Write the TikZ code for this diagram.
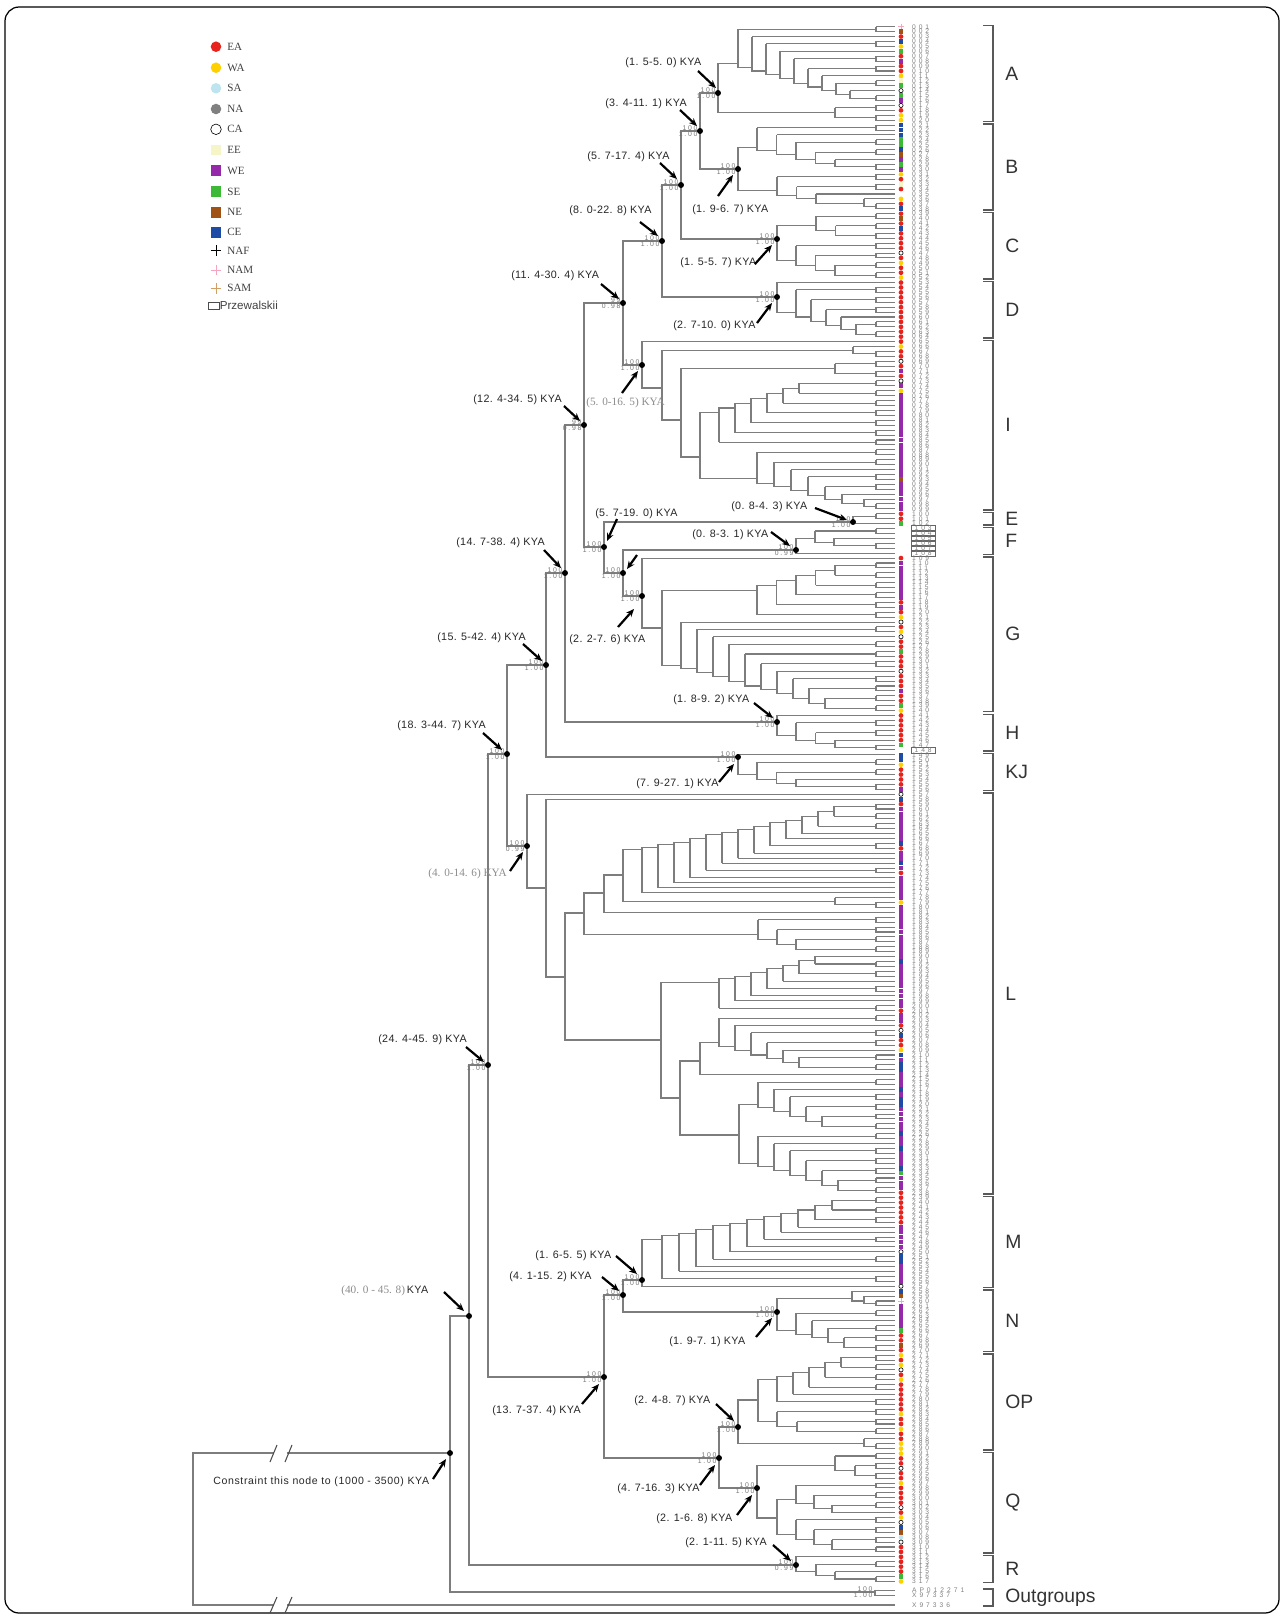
\documentclass[tikz,border=0pt]{standalone}
\usepackage{fontspec}
\setmainfont{Liberation Serif}
\newfontfamily\kyaf[LetterSpace=3]{Liberation Sans}
\newfontfamily\conf[LetterSpace=6]{Liberation Sans}
\newfontfamily\svf[LetterSpace=25]{Liberation Sans}
\newfontfamily\tipf[LetterSpace=45]{Liberation Sans}
\newfontfamily\cladef{Liberation Sans}
\usetikzlibrary{arrows.meta}

\definecolor{treegray}{RGB}{125,125,125}
\definecolor{eacol}{RGB}{232,35,30}
\definecolor{wacol}{RGB}{255,208,0}
\definecolor{sacol}{RGB}{190,228,240}
\definecolor{nacol}{RGB}{128,128,128}
\definecolor{eecol}{RGB}{245,245,200}
\definecolor{wecol}{RGB}{150,40,170}
\definecolor{secol}{RGB}{60,185,55}
\definecolor{necol}{RGB}{160,82,20}
\definecolor{cecol}{RGB}{30,75,165}
\definecolor{namcol}{RGB}{245,165,190}
\definecolor{samcol}{RGB}{210,160,100}

% small comb of tips #1..#2 at the tip ends, entry in \rx,\ry
\newcommand\trung[2]{%
  \ifnum#1=#2\relax
    \pgfmathsetmacro\ya{26.7+(#1-1)*4.92}%
    \xdef\rx{895}\xdef\ry{\ya}%
  \else
    \pgfmathsetmacro\ya{26.7+(#1-1)*4.92}%
    \pgfmathsetmacro\yb{26.7+(#2-1)*4.92}%
    \pgfmathsetmacro\xf{876-(#2-1-#1)*12}%
    \pgfmathsetmacro\ym{(\ya+\yb)/2}%
    \xdef\rx{\xf}\xdef\ry{\ym}%
    \pgfmathtruncatemacro\ka{#1}%
    \pgfmathtruncatemacro\kb{#2-1}%
    \pgfmathtruncatemacro\kl{#2}%
    \edef\klist{\ka,...,\kb}%
    \foreach \kk in \klist {%
      \pgfmathsetmacro\xk{876-(\kl-1-\kk)*12}%
      \pgfmathsetmacro\yk{26.7+(\kk-1)*4.92}%
      \ifnum\kk<\kb\relax
        \pgfmathsetmacro\tx{876-(\kl-2-\kk)*12}%
        \pgfmathsetmacro\ty{(26.7+\kk*4.92+\yb)/2}%
      \else
        \def\tx{895}\let\ty\yb
      \fi
      \draw[br] (\xk,\yk) -- (895,\yk) (\xk,\yk) |- (\tx,\ty);%
    }%
  \fi}

% ladder of rungs: #1 name of entry, #2 first x, #3 x step, #4 rungs f/l
\newcommand\tladder[4]{%
  \foreach \rf/\rl [count=\nn] in {#4} {\xdef\lastn{\nn}\xdef\lastf{\rf}\xdef\lastl{\rl}}%
  \pgfmathsetmacro\lastc{26.7+((\lastf+\lastl)/2-1)*4.92}%
  \foreach \rf/\rl [count=\ri] in {#4} {%
    \trung{\rf}{\rl}%
    \ifnum\ri<\lastn\relax
      \pgfmathsetmacro\LX{#2+(\ri-1)*#3}%
      \pgfmathsetmacro\LY{(\ry+\lastc)/2}%
      \draw[br] (\LX,\ry) -- (\rx,\ry);%
    \else
      \let\LX\rx \let\LY\ry
    \fi
    \ifnum\ri>1\relax
      \draw[br] (\prevx,\prevc) |- (\LX,\LY);%
    \else
      \coordinate (#1) at (\LX,\LY);%
    \fi
    \xdef\prevx{\LX}\xdef\prevc{\ry}%
  }}

\begin{document}
\begin{tikzpicture}[x=0.02cm, y=-0.02cm,
    br/.style={draw=treegray, line width=0.6pt},
    brk/.style={draw=black!65, line width=0.8pt},
    sv/.style={font=\svf\fontsize{3.9}{3.9}\selectfont, text=black!55, inner sep=0pt},
    kya/.style={font=\kyaf\fontsize{6.1}{6.5}\selectfont, text=black!85, inner sep=0pt, anchor=west},
    kyag/.style={font=\fontsize{6.4}{6.5}\selectfont, text=black!45, inner sep=0pt, anchor=west},
    kyarrow/.style={-{Stealth[length=4.5pt,width=3.8pt]}, line width=1.25pt, black},
    tiplab/.style={font=\tipf\fontsize{3.8}{3.8}\selectfont, text=black!50, inner sep=0.4pt, anchor=west},
    clab/.style={font=\cladef\fontsize{11}{11}\selectfont, text=black!80, inner sep=0pt, anchor=west},
    lgt/.style={font=\fontsize{6.3}{6.3}\selectfont, text=black!75, inner sep=0pt, anchor=west},
    mk/.style={inner sep=0pt, minimum size=2.7pt},
    mkr/.style={mk, circle, fill=eacol},
    mky/.style={mk, circle, fill=wacol},
    mks/.style={mk, circle, fill=sacol},
    mkg/.style={mk, circle, fill=nacol},
    mko/.style={mk, circle, draw=black, fill=white, line width=0.35pt, minimum size=2.4pt},
    mke/.style={mk, rectangle, fill=eecol},
    mkp/.style={mk, rectangle, fill=wecol},
    mkG/.style={mk, rectangle, fill=secol},
    mkb/.style={mk, rectangle, fill=necol},
    mkc/.style={mk, rectangle, fill=cecol},
    mkplus/.style={mk, rectangle, minimum size=3.2pt, path picture={
      \draw[#1, line width=0.55pt] (path picture bounding box.north) -- (path picture bounding box.south)
        (path picture bounding box.west) -- (path picture bounding box.east);}},
    mkk/.style={mkplus=black},
    mkm/.style={mkplus=namcol},
    mka/.style={mkplus=samcol},
    mkn/.style={mk},
    mkx/.style={mk}
  ]
\useasboundingbox (0,0) rectangle (1284,1617);
\draw[black, line width=0.7pt, rounded corners=8pt] (5,7) rectangle (1279,1613);

% labelled nodes of the tree
\coordinate (root) at (450,1453);
\coordinate (n40) at (469,1316);
\coordinate (n24) at (488,1065);
\coordinate (n18) at (507,754);
\coordinate (n4)  at (527,846);
\coordinate (n15) at (546,665);
\coordinate (n14) at (565,573);
\coordinate (n12) at (584,425);
\coordinate (n11) at (623,303);
\coordinate (n8)  at (662,241);
\coordinate (n5)  at (681,185);
\coordinate (n3)  at (700,131);
\coordinate (nA)  at (718,93);
\coordinate (nB)  at (738,169);
\coordinate (nC)  at (777,239);
\coordinate (nD)  at (777,297);
\coordinate (nI)  at (642,365);
\coordinate (n57) at (604,547);
\coordinate (nE)  at (853,522);
\coordinate (nU)  at (623,573);
\coordinate (nF)  at (796,550);
\coordinate (nG)  at (642,596);
\coordinate (nH)  at (777,722);
\coordinate (nKJ) at (738,757);
\coordinate (n13) at (604,1377);
\coordinate (n41) at (623,1295);
\coordinate (n16) at (642,1280);
\coordinate (nN)  at (777,1312);
\coordinate (n47) at (719,1458);
\coordinate (nOP) at (738,1427);
\coordinate (nQ)  at (757,1488);
\coordinate (nR)  at (796,1565);
\coordinate (nOG) at (875,1592);
% inner nodes
\coordinate (I1) at (662,388);
\coordinate (I2) at (681,420);
\coordinate (I3) at (700,457);
\coordinate (G1) at (662,628);
\coordinate (L1) at (546,888);
\coordinate (L2) at (565,977);
\coordinate (La) at (584,913);
\coordinate (Laa) at (604,893);
\coordinate (Lab) at (623,875);
\coordinate (Lb) at (661,1040);
\coordinate (Lc) at (680,1098);
\coordinate (Lca) at (700,1061);
\coordinate (Lcb) at (739,1135);
\coordinate (O1) at (758,1400);
\coordinate (Qb) at (777,1518);
\coordinate (tOG1) at (895,1590.5);
\coordinate (tOG2) at (895,1595.3);
\coordinate (tOG3) at (895,1605);
\coordinate (rootl) at (193,1453);
\coordinate (rootb) at (193,1605);

% clades
\tladder{A1}{738}{14}{1/2,3/3,4/5,6/6,7/8,9/10,11/11,12/13,14/14,15/16}
\tladder{A2}{835}{20}{17/18,19/20}
\tladder{B1}{757}{19.5}{21/22,23/23,24/25,26/27,28/28,29/30}
\tladder{B2}{777}{19.5}{31/32,33/34,35/35,36/38}
\tladder{C1}{816}{19.5}{39/40,41/42,43/44}
\tladder{C2}{796}{19.5}{45/46,47/48,49/50,51/52}
\tladder{D1}{0}{0}{53/53}
\tladder{D2}{796}{15}{54/55,56/57,58/59,60/60,61/62,63/64}
\tladder{I0}{0}{0}{65/65}
\tladder{I1a}{853}{0}{66/66,67/68}
\tladder{I2a}{835}{0}{69/70,71/72}
\tladder{I3a}{719}{16}{85/86,83/84,81/82,79/80,77/78,75/76,73/74}
\tladder{I3b}{757}{17}{87/88,89/90,91/91,92/93,94/95,96/96,97/99}
\tladder{E1}{0}{0}{100/101}
\tladder{E2}{0}{0}{102/102}
\tladder{F1}{815}{19}{103/104,105/105,106/107}
\tladder{F2}{0}{0}{108/108}
\tladder{G0}{0}{0}{109/109}
\tladder{G1a}{757}{19.5}{120/121,118/119,116/117,114/115,112/113,110/111}
\tladder{G1b}{681}{16}{122/122,123/124,125/125,126/127,128/129,130/131,132/132,133/134,135/136,137/138,139/140}
\tladder{H0}{0}{0}{141/141}
\tladder{H1}{796}{19.5}{142/143,144/145,146/146,147/148}
\tladder{K0}{0}{0}{149/149}
\tladder{K1}{757}{19.5}{150/151,152/153,154/154,155/156}
\tladder{L0}{0}{0}{157/157}
\tladder{L00}{0}{0}{158/158}
\tladder{Lup}{642}{16}{177/177,176/176,175/175,174/174,172/173,171/171,170/170,169/169,167/168,166/166,165/165,163/164,161/162,159/160}
\tladder{Lcb1}{835}{0}{178/178,179/180}
\tladder{Lt181}{0}{0}{181/181}
\tladder{Lz}{758}{19}{182/183,184/185,186/187,188/189}
\tladder{Lb1}{719}{16}{200/201,199/199,198/198,196/197,195/195,193/194,191/192,190/190}
\tladder{Lca1}{719}{16}{202/203,204/204,205/206,207/208,209/209,210/211,212/213}
\tladder{Lt214}{0}{0}{214/214}
\tladder{Lcb2}{758}{16}{215/216,217/217,218/219,220/221,222/223,224/225}
\tladder{Lcb3}{758}{16}{226/227,228/228,229/230,231/232,233/234,235/236,237/238}
\tladder{M1}{662}{17}{255/256,254/254,253/253,251/252,250/250,249/249,247/248,246/246,245/245,243/244,241/242,239/240}
\tladder{M2}{0}{0}{257/257}
\tladder{N1}{0}{0}{258/261}
\tladder{N2}{796}{16}{262/263,264/264,265/266,267/268,269/270}
\tladder{O1a}{777}{16}{280/281,279/279,277/278,275/276,273/274,271/272}
\tladder{O1b}{777}{20}{282/283,284/285,286/287}
\tladder{O2}{0}{0}{288/290}
\tladder{Q1}{835}{20}{291/292,293/294,295/296}
\tladder{Q2}{796}{18}{297/298,299/300,301/302,303/303}
\tladder{Q3}{796}{18}{304/305,306/307,308/309,310/311}
\tladder{R0}{0}{0}{312/312}
\tladder{R1}{816}{19}{313/314,315/315,316/317}

% branches
\foreach \nd/\ca/\cb in {root/n40/nOG, n40/n24/nR, n24/n18/n13, n18/n15/n4, n15/n14/nKJ,
    n14/n12/nH, n12/n11/n57, n11/n8/nI, n8/n5/nD, n5/n3/nC, n3/nA/nB,
    nA/A1/A2, nB/B1/B2, nC/C1/C2, nD/D1/D2,
    nI/I0/I1, I1/I1a/I2, I2/I2a/I3, I3/I3a/I3b,
    n57/nE/nU, nE/E1/E2, nU/nF/nG, nF/F1/F2, nG/G0/G1, G1/G1a/G1b,
    nH/H0/H1, nKJ/K0/K1,
    n4/L0/L1, L1/L00/L2, L2/La/Lb, La/Laa/Lz, Laa/Lab/Lt181, Lab/Lup/Lcb1,
    Lb/Lb1/Lc, Lc/Lca/Lcb, Lca/Lca1/Lt214, Lcb/Lcb2/Lcb3,
    n13/n41/n47, n41/n16/nN, n16/M1/M2, nN/N1/N2,
    n47/nOP/nQ, nOP/O1/O2, O1/O1a/O1b, nQ/Q1/Qb, Qb/Q2/Q3,
    nR/R0/R1, nOG/tOG1/tOG2}
  {\draw[br] (\nd) |- (\ca) (\nd) |- (\cb);}

% root stem with breaks
\draw[br] (root) -- (287,1453);
\draw[br] (274,1453) -- (rootl) -- (rootb) -- (274,1605);
\draw[br] (287,1605) -- (tOG3);
\draw[br, draw=black!70] (270,1462) -- (277,1445) (285,1462) -- (292,1445);
\draw[br, draw=black!70] (270,1613) -- (277,1597) (285,1613) -- (292,1597);

% dots and support values
\foreach \nd in {nA,n3,nB,n5,nC,n8,nD,n11,nI,n12,nE,n57,nF,nU,nG,n14,n15,nH,nKJ,n18,n4,
    n24,n16,n41,nN,n13,nOP,n47,nQ,nR,n40,root}
  {\fill[black] (\nd) circle (1.7pt);}
\foreach \nd/\sa/\sb in {nA/100/1.00, n3/100/1.00, nB/100/1.00, n5/100/1.00, nC/100/1.00,
    n8/100/1.00, nD/100/1.00, n11/99/0.98, nI/100/1.00, n12/99/0.98, nE/100/1.00,
    n57/100/1.00, nF/100/0.99, nU/100/1.00, nG/100/1.00, n14/100/1.00, n15/100/1.00,
    nH/100/1.00, nKJ/100/1.00, n18/100/1.00, n4/100/0.99, n24/100/1.00, n16/100/1.00,
    n41/100/1.00, nN/100/1.00, n13/100/1.00, nOP/100/1.00, n47/100/1.00, nQ/100/1.00,
    nR/100/0.99, nOG/100/1.00}
  {\node[sv, anchor=south east] at ([xshift=-1.3pt]\nd) {\sa};
   \node[sv, anchor=north east] at ([xshift=-1.3pt,yshift=-0.3pt]\nd) {\sb};}

% age labels
\node[kya] (kA) at (625,63) {(1. 5-5. 0) KYA};
\draw[kyarrow] (698,71) -- (716,88);
\node[kya] (k3) at (605,104) {(3. 4-11. 1) KYA};
\draw[kyarrow] (680,110) -- (697,126);
\node[kya] (k5) at (587,157) {(5. 7-17. 4) KYA};
\draw[kyarrow] (660,163) -- (677,179);
\node[kya] (k8) at (569,211) {(8. 0-22. 8) KYA};
\draw[kyarrow] (640,222) -- (658,236);
\node[kya] (kB) at (692,210) {(1. 9-6. 7) KYA};
\draw[kyarrow] (718,196) -- (733,175);
\node[kya] (kC) at (680,263) {(1. 5-5. 7) KYA};
\draw[kyarrow] (755,264) -- (772,245);
\node[kya] (k11) at (511,276) {(11. 4-30. 4) KYA};
\draw[kyarrow] (601,284) -- (619,299);
\node[kya] (kD) at (673,326) {(2. 7-10. 0) KYA};
\draw[kyarrow] (757,323) -- (772,303);
\node[kyag] (kI) at (586,403) {(5. 0-16. 5) KYA};
\draw[kyarrow] (622,393) -- (638,371);
\node[kya] (k12) at (473,400) {(12. 4-34. 5) KYA};
\draw[kyarrow] (564,406) -- (580,421);
\node[kya] (kE) at (731,507) {(0. 8-4. 3) KYA};
\draw[kyarrow] (815,508) -- (847,520);
\node[kya] (k57) at (595,514) {(5. 7-19. 0) KYA};
\draw[kyarrow] (617,519) -- (607,541);
\node[kya] (kF) at (692,535) {(0. 8-3. 1) KYA};
\draw[kyarrow] (771,532) -- (790,546);
\node[kya] (k14) at (456,543) {(14. 7-38. 4) KYA};
\draw[kyarrow] (544,550) -- (561,568);
\draw[kyarrow] (637,555) -- (627,569);
\node[kya] (kG) at (569,640) {(2. 2-7. 6) KYA};
\draw[kyarrow] (618,627) -- (634,609);
\node[kya] (k15) at (437,638) {(15. 5-42. 4) KYA};
\draw[kyarrow] (523,644) -- (542,661);
\node[kya] (kH) at (673,700) {(1. 8-9. 2) KYA};
\draw[kyarrow] (754,703) -- (773,718);
\node[kya] (k18) at (397,726) {(18. 3-44. 7) KYA};
\draw[kyarrow] (483,733) -- (502,750);
\node[kya] (kKJ) at (636,784) {(7. 9-27. 1) KYA};
\draw[kyarrow] (719,782) -- (734,764);
\node[kyag] (k4) at (428,874) {(4. 0-14. 6) KYA};
\draw[kyarrow] (510,871) -- (523,852);
\node[kya] (k24) at (378,1040) {(24. 4-45. 9) KYA};
\draw[kyarrow] (466,1047) -- (484,1062);
\node[kya] (k16) at (535,1256) {(1. 6-5. 5) KYA};
\draw[kyarrow] (616,1256) -- (637,1274);
\node[kya] (k41) at (509,1277) {(4. 1-15. 2) KYA};
\draw[kyarrow] (602,1277) -- (619,1291);
\node[kyag] (k40) at (341,1291) {(40. 0 - 45. 8)\,{\kyaf\fontsize{6.1}{6.5}\selectfont\color{black!85}KYA}};
\draw[kyarrow] (444,1292) -- (464,1311);
\node[kya] (kN) at (669,1342) {(1. 9-7. 1) KYA};
\draw[kyarrow] (756,1337) -- (772,1318);
\node[kya] (k13) at (492,1411) {(13. 7-37. 4) KYA};
\draw[kyarrow] (582,1404) -- (599,1384);
\node[kya] (kOP) at (634,1401) {(2. 4-8. 7) KYA};
\draw[kyarrow] (716,1404) -- (734,1421);
\node[kya] (k47) at (617,1489) {(4. 7-16. 3) KYA};
\draw[kyarrow] (700,1485) -- (715,1465);
\node[kya] (kQ) at (656,1519) {(2. 1-6. 8) KYA};
\draw[kyarrow] (737,1515) -- (752,1495);
\node[kya] (kR) at (685,1543) {(2. 1-11. 5) KYA};
\draw[kyarrow] (773,1545) -- (791,1561);
\node[kya, font=\conf\fontsize{6}{6.5}\selectfont] (kroot) at (213,1482) {Constraint this node to (1000 - 3500) KYA};
\draw[kyarrow] (433,1479) -- (446,1459);

% tip markers and labels
\foreach \mc [count=\i] in {m,b,r,c,y,G,r,p,r,r, y,e,G,o,G,p,o,r,y,y,
    c,c,c,G,G,c,b,p,G,p, y,r,e,r,n,y,r,c,r,b, r,c,r,r,r,r,o,r,y,r,
    r,y,r,r,r,r,r,r,r,r, r,r,r,r,r,y,r,r,o,r, p,r,o,p,y,p,p,p,p,p,
    p,p,p,p,p,p,p,p,p,p, p,p,b,p,p,p,p,p,p,r, r,G,x,x,x,x,x,x,r,p,
    p,p,p,p,p,p,p,r,p,r, y,o,r,y,o,r,r,G,r,r, r,o,r,r,r,p,r,r,G,y,
    r,r,r,r,r,r,G,x,c,c, y,r,r,r,r,p,o,c,r,p, p,p,p,p,p,p,c,r,p,p,
    c,p,r,p,p,p,p,p,y,p, p,p,p,p,p,p,p,p,p,p, c,p,p,p,p,p,p,p,p,p,
    r,p,p,r,o,c,r,r,y,c, p,c,c,p,p,p,c,p,c,c, p,p,p,p,p,c,p,p,c,p,
    p,p,c,G,p,p,p,r,r,r, r,r,r,r,p,p,p,p,p,o, c,c,p,p,p,p,o,c,b,m,
    p,p,p,p,p,G,r,r,b,r, y,r,y,o,r,y,r,r,r,r, r,r,y,r,r,y,r,r,y,y,
    y,r,r,o,r,r,y,r,r,r, r,o,r,y,o,c,b,s,o,r, r,r,r,r,r,G,y}
  {\pgfmathsetmacro\yy{26.7+(\i-1)*4.92}
   \node[mk\mc] (mk\i) at (901,\yy) {};
   \if x\mc
     \node[tiplab, draw=black!60, line width=0.3pt, minimum height=2.8pt, minimum width=13.5pt] (tl\i) at (911,\yy)
       {\ifnum\i<10 00\i\else\ifnum\i<100 0\i\else\i\fi\fi};
   \else
     \node[tiplab] (tl\i) at (911,\yy) {\ifnum\i<10 00\i\else\ifnum\i<100 0\i\else\i\fi\fi};
   \fi}
\node[tiplab] (tlAP) at (911,1590.5) {AP012271};
\node[tiplab] (tlX7) at (911,1595.3) {X97337};
\node[tiplab] (tlX6) at (911,1605) {X97336};

% clade brackets
\foreach \ta/\tb/\tn in {1/20/A, 21/38/B, 39/52/C, 53/64/D, 65/99/I, 100/102/E, 103/108/F,
    109/140/G, 141/148/H, 149/156/KJ, 157/238/L, 239/257/M, 258/270/N, 271/290/OP,
    291/311/Q, 312/317/R}
  {\pgfmathsetmacro\yt{26.7+(\ta-1)*4.92-1.2}
   \pgfmathsetmacro\yd{26.7+(\tb-1)*4.92+1.2}
   \pgfmathsetmacro\ymid{(\yt+\yd)/2}
   \draw[brk] (983,\yt) -- (993,\yt) -- (993,\yd) -- (983,\yd);
   \node[clab] (c\tn) at (1005,\ymid) {\tn};}
\draw[brk] (983,1589) -- (993,1589) -- (993,1606) -- (983,1606);
\node[clab] (cOG) at (1005,1597.5) {Outgroups};

% legend
\foreach \mc/\tn/\ly in {r/EA/46.7, y/WA/67.7, s/SA/88.3, g/NA/109, o/CA/129.3, e/EE/150,
    p/WE/170.7, G/SE/191.7, b/NE/212.3, c/CE/232.3, k/NAF/250.7, m/NAM/270, a/SAM/288.3}
  {\node[mk\mc, minimum size=6pt] (lg\tn) at (216,\ly) {};
   \node[lgt] (lt\tn) at (227,\ly) {\tn};}
\draw[black!70, line width=0.45pt] (208,302.5) rectangle (219,309);
\node[lgt, font=\cladef\fontsize{6.6}{6.6}\selectfont] (ltPr) at (219.5,305.7) {Przewalskii};
\end{tikzpicture}
\end{document}
